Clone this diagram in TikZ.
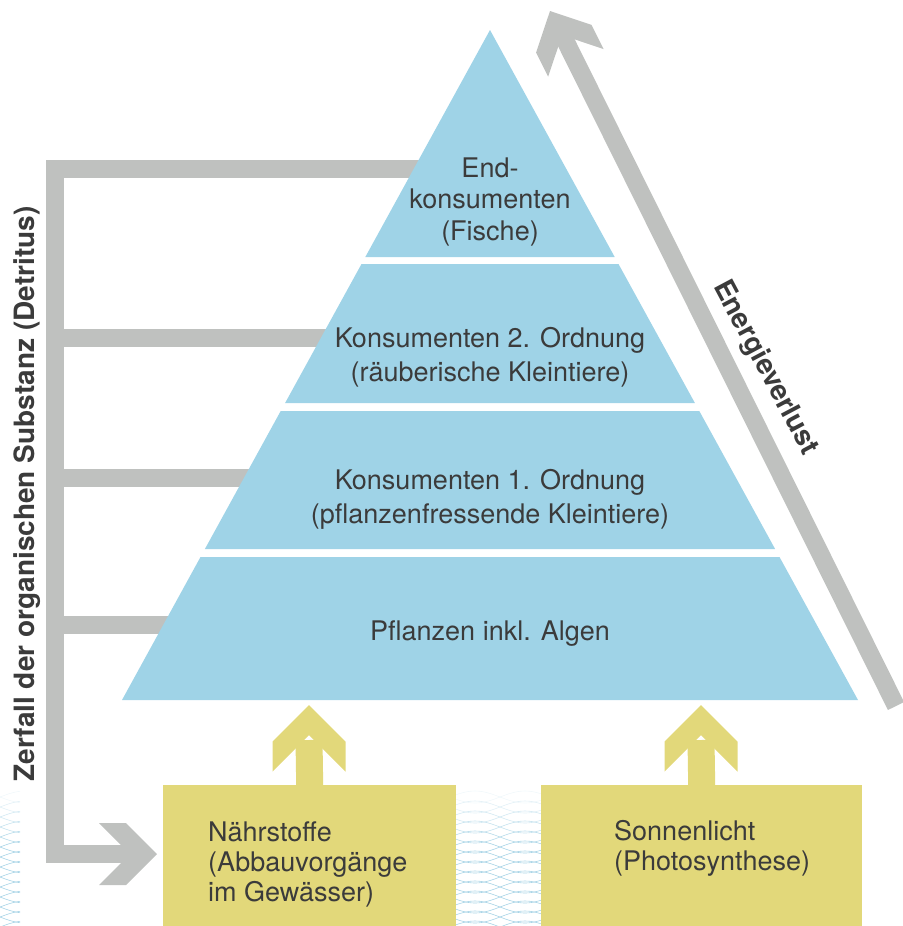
\documentclass[tikz,border=0pt]{standalone}
\usepackage{fontspec}
\setmainfont{TeX Gyre Heros}
\usepackage{tikz}
\definecolor{pyrblue}{HTML}{9FD3E7}
\definecolor{bargray}{HTML}{BFC1BF}
\definecolor{boxyellow}{HTML}{E2D87A}
\definecolor{txtgray}{HTML}{3B3B3B}
\definecolor{wavecol}{HTML}{8CC6DE}

\begin{document}
\begin{tikzpicture}[x=1pt, y=-1pt,
  every node/.style={inner sep=0pt, text=txtgray, font=\fontsize{27}{32}\selectfont},
  bar/.style={draw=bargray, line width=18pt},
  stem/.style={draw=boxyellow, line width=27pt},
  layer/.style={fill=pyrblue},
  box/.style={fill=boxyellow, minimum width=293pt, minimum height=141pt, anchor=north west},
  wave/.style={draw=wavecol, line width=0.6pt},
  pics/chev/.style 2 args={code={\fill (0,0) -- (-#1,#1) -- (-#1-#2,#1) -- (-#2,0) -- (-#1-#2,-#1) -- (-#1,-#1) -- cycle;}}]
	\useasboundingbox (0,0) rectangle (902,926);
	%Waves
	\begin{scope}
	\clip (0,790) rectangle (20,926) (456,790) rectangle (541,926);
	\foreach \i in {0,...,13}{
	  \pgfmathsetmacro\op{min(1,(\i+1)/6)*0.75}
	  \draw[wave, draw opacity=\op] plot[domain=0:545, samples=110, smooth] (\x, {797+\i*10+6*sin(3.6*\x)});
	  \draw[wave, draw opacity=\op] plot[domain=0:545, samples=110, smooth] (\x, {797+\i*10-6*sin(3.6*\x)});
	}
	\end{scope}
	%Detritus
	\coordinate (d0) at (55,169);
	\coordinate (d1) at (55,337.5);
	\coordinate (d2) at (55,477.5);
	\coordinate (d3) at (55,625);
	\coordinate (d4) at (55,854);
	\coordinate (dend) at (135,854);
	\draw[bar] (430,169) -- (d0) -- (d4) -- (dend);
	\draw[bar] (d1) -- (340,337.5);
	\draw[bar] (d2) -- (260,477.5);
	\draw[bar] (d3) -- (180,625);
	\pic[fill=bargray] at (157,854) {chev={31}{27}};
	\node [rotate=90, font=\bfseries\fontsize{28}{32}\selectfont] (zerfall) at (27,494) {Zerfall der organischen Substanz (Detritus)};
	%Pyramid
	\fill[layer] (490,30) -- (614.7,257) -- (365.3,257) -- cycle;
	\fill[layer] (361.5,264) -- (618.5,264) -- (694.9,403) -- (285.1,403) -- cycle;
	\fill[layer] (280.7,411) -- (699.3,411) -- (775.1,549) -- (204.9,549) -- cycle;
	\fill[layer] (200.5,557) -- (779.5,557) -- (858,700) -- (122,700) -- cycle;
	\node [align=center, font=\fontsize{27}{31.5}\selectfont] (endkons) at (490,202) {End-\\konsumenten\\(Fische)};
	\node [align=center, font=\fontsize{27}{34}\selectfont] (kons2) at (490,357.5) {Konsumenten 2. Ordnung\\(räuberische Kleintiere)};
	\node [align=center, font=\fontsize{27}{34}\selectfont] (kons1) at (490,499.5) {Konsumenten 1. Ordnung\\(pflanzenfressende Kleintiere)};
	\node (pflanzen) at (490,634) {Pflanzen inkl. Algen};
	%Energy loss
	\draw[bar] (896,706) -- (557,24);
	\pic[fill=bargray, rotate=116.5] at (550,11) {chev={31}{27}};
	\node [rotate=-62, font=\bfseries\fontsize{28}{32}\selectfont] (energie) at (765,368) {Energieverlust};
	%Sources
	\node [box] (naehrbox) at (163,785) {};
	\node [box, minimum width=321pt] (sonnebox) at (541,785) {};
	\node [align=left, anchor=west, font=\fontsize{27}{30}\selectfont] (naehr) at (208,864) {Nährstoffe\\(Abbauvorgänge\\im Gewässer)};
	\node [align=left, anchor=west, font=\fontsize{27}{30}\selectfont] (sonne) at (614,848) {Sonnenlicht\\(Photosynthese)};
	\draw[stem] (naehrbox.north) -- (309,740);
	\draw[stem] (sonnebox.north) -- (701,740);
	\pic[fill=boxyellow, rotate=90] at (309,705) {chev={36.5}{30}};
	\pic[fill=boxyellow, rotate=90] at (701,705) {chev={36.5}{30}};
\end{tikzpicture}
\end{document}
